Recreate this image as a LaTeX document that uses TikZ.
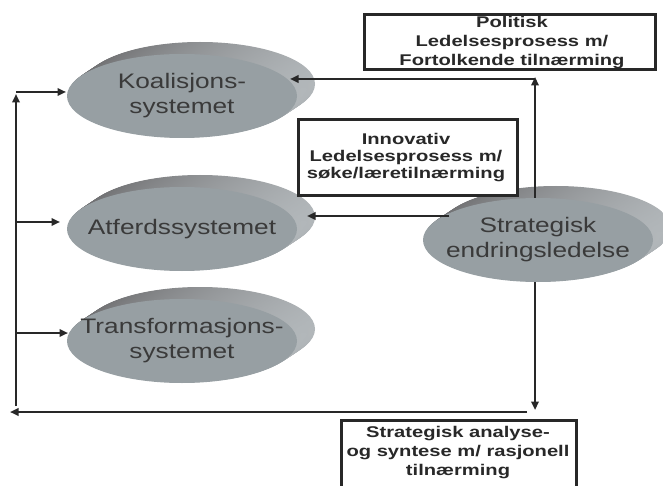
\documentclass[tikz,border=0pt]{standalone}
\usepackage{fontspec}
\setmainfont{Liberation Sans}
\newfontfamily\discfont[FakeStretch=1.25]{Liberation Sans}
\newfontfamily\boxfont[FakeStretch=1.3]{Liberation Sans}
\usetikzlibrary{arrows.meta,shapes.geometric}

\definecolor{facegrey}{RGB}{151,159,163}
\definecolor{sidedark}{RGB}{108,108,110}
\definecolor{sidelight}{RGB}{178,183,186}
\definecolor{ink}{RGB}{40,40,40}
\definecolor{disctext}{RGB}{58,58,58}

\tikzset{
  conn/.style={draw=ink, line width=2.6pt, -{Triangle[length=8.5pt,width=7.5pt]}},
  discface/.style={ellipse, fill=facegrey, minimum width=230pt, minimum height=84pt, inner sep=0pt},
  disclabel/.style={align=center, text=disctext, inner sep=0pt,
    font=\discfont\fontsize{21}{25}\selectfont},
  frame/.style={draw=ink, line width=3.2pt, fill=white, inner sep=0pt},
  caption/.style={align=center, text=ink, inner sep=0pt,
    font=\boxfont\bfseries\fontsize{15.5}{19}\selectfont},
}

% extruded rim of a disc whose front face is centred at (#1,#2)
\newcommand\discrim[2]{%
  \foreach \k in {20,19,...,1}{
    \shade[left color=sidedark, right color=sidelight]
      ({#1+18*\k/20},{#2-12*\k/20}) ellipse [x radius=115pt, y radius=42pt];
  }%
}

\begin{document}
\begin{tikzpicture}[x=1pt,y=-1pt]
\useasboundingbox (0,0) rectangle (663,486);
\fill[white] (0,0) rectangle (663,486);

% discs
\discrim{182}{96}
\node[discface] (koal) at (182,96) {};
\node[disclabel] (koalText) at (koal.center) {Koalisjons-\\systemet};
\discrim{182}{229}
\node[discface] (atf) at (182,229) {};
\node[disclabel] (atfText) at (atf.center) {Atferdssystemet};
\discrim{182}{341}
\node[discface] (trans) at (182,341) {};
\node[disclabel] (transText) at (trans.center) {Transformasjons-\\systemet};
\discrim{538}{240}
\node[discface] (strat) at (538,240) {};
\node[disclabel] (stratText) at (strat.center) {Strategisk\\endringsledelse};

% connector end points
\coordinate (upTip) at (535,77);
\coordinate (koalIn) at (290,79);
\coordinate (stratOut) at (449,216);
\coordinate (atfIn) at (307,216);
\coordinate (downTip) at (535,410);
\coordinate (bottomR) at (527,412);
\coordinate (bottomL) at (10,412);
\coordinate (leftBase) at (16,406);
\coordinate (leftTop) at (16,94);
\coordinate (koalTip) at (66,92);
\coordinate (atfTip) at (60,222);
\coordinate (transTip) at (68,333);

% connectors
\draw[conn] (upTip |- strat.north) -- (upTip);
\draw[conn] (upTip |- koalIn) -- (koalIn);
\draw[conn] (stratOut) -- (atfIn);
\draw[conn] (downTip |- strat.south) -- (downTip);
\draw[conn] (bottomR) -- (bottomL);
\draw[conn] (leftBase) -- (leftTop);
\draw[conn] (leftTop |- koalTip) -- (koalTip);
\draw[conn] (leftBase |- atfTip) -- (atfTip);
\draw[conn] (leftBase |- transTip) -- (transTip);

% process boxes
\node[frame, minimum width=291pt, minimum height=55pt] (polBox) at (510,42) {};
\node[caption] (polText) at (512,43) {Politisk\\Ledelsesprosess m/\\Fortolkende tilnærming};

\node[frame, minimum width=219pt, minimum height=76pt] (innBox) at (408,157.5) {};
\node[caption] (innText) at (406,158) {Innovativ\\[-2pt]Ledelsesprosess m/\\[-2pt]søke/læretilnærming};

\node[frame, minimum width=235pt, minimum height=90pt, anchor=north] (anaBox) at (459,418.6) {};
\node[caption] (anaText) at (458,453) {Strategisk analyse-\\og syntese m/ rasjonell\\tilnærming};
\end{tikzpicture}
\end{document}
